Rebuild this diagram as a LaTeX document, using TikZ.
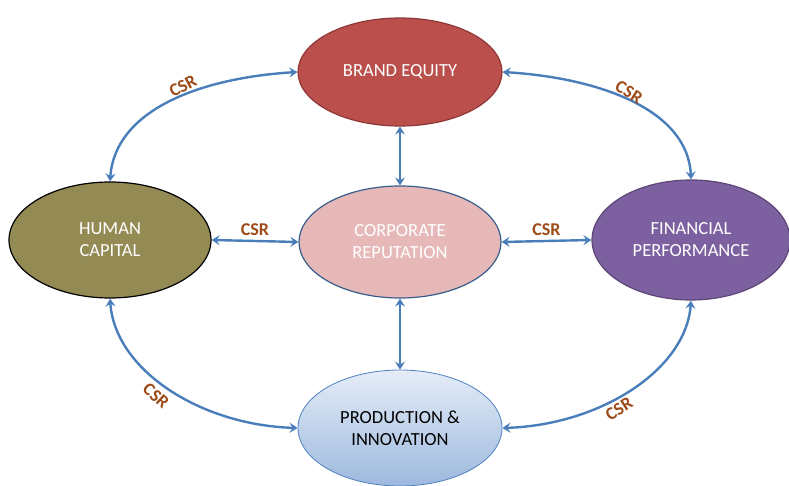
\documentclass[tikz,border=0pt]{standalone}
\usepackage{fontspec}
\setmainfont{Carlito}
\usetikzlibrary{shapes.geometric,arrows.meta}
\definecolor{arrowblue}{HTML}{4A7EBB}
\definecolor{csrbrown}{HTML}{9C4A17}
\definecolor{befill}{HTML}{BA4F4C}
\definecolor{bedraw}{HTML}{8C3836}
\definecolor{hcfill}{HTML}{948A54}
\definecolor{crfill}{HTML}{E6B9B8}
\definecolor{crdraw}{HTML}{385D8A}
\definecolor{fpfill}{HTML}{7D60A0}
\definecolor{fpdraw}{HTML}{5C4776}
\definecolor{pitop}{HTML}{E4ECF7}
\definecolor{pibot}{HTML}{9DB9DE}
\definecolor{pidraw}{HTML}{4F81BD}
\tikzset{
  blob/.style={ellipse, inner sep=0pt, line width=1.2pt, align=center,
    font=\fontsize{18.5}{22}\selectfont},
  link/.style={draw=arrowblue, line width=2.4pt,
    {Stealth[length=8pt,width=10pt,inset=3pt]}-{Stealth[length=8pt,width=10pt,inset=3pt]}},
  csr/.style={text=csrbrown, font=\fontsize{18}{20}\selectfont\bfseries, inner sep=0pt}
}
\begin{document}
\begin{tikzpicture}[x=1pt,y=1pt]
\useasboundingbox (0,0) rectangle (789,486);
\clip (0,0) rectangle (789,486);
% nodes (y = 486 - pixel y)
\node[blob, fill=befill, draw=bedraw, text=white, minimum width=204pt, minimum height=108pt] (be) at (400,414) {BRAND EQUITY};
\node[blob, fill=crfill, draw=crdraw, text=white, minimum width=202pt, minimum height=112pt] (cr) at (400,244) {CORPORATE\\REPUTATION};
\node[blob, fill=hcfill, draw=black, text=white, minimum width=202pt, minimum height=116pt] (hc) at (110,246) {HUMAN\\CAPITAL};
\node[blob, fill=fpfill, draw=fpdraw, text=white, minimum width=198pt, minimum height=120pt] (fp) at (691,246) {FINANCIAL\\PERFORMANCE};
\node[blob, top color=pitop, bottom color=pibot, draw=pidraw, line width=0.8pt, text=black, minimum width=204pt, minimum height=116pt] (pi) at (400,58) {PRODUCTION \&\\INNOVATION};
% straight connectors
\draw[link] (hc.east) -- (cr.west) node[csr, midway, above=4pt] {CSR};
\draw[link] (cr.east) -- (fp.west) node[csr, midway, above=4pt] {CSR};
\draw[link] (be.south) -- (cr.north);
\draw[link] (cr.south) -- (pi.north);
% curved connectors
\draw[link] (be.west) .. controls (200,408) and (115,376) .. (hc.north);
\draw[link] (be.east) .. controls (600,408) and (688,376) .. (fp.north);
\draw[link] (hc.south) .. controls (115,116) and (200,61) .. (pi.west);
\draw[link] (fp.south) .. controls (686,116) and (600,61) .. (pi.east);
% curved labels
\node[csr, rotate=28] (l1) at (183,400) {CSR};
\node[csr, rotate=-32] (l2) at (629,394) {CSR};
\node[csr, rotate=-42] (l3) at (156,90) {CSR};
\node[csr, rotate=33] (l4) at (619,77) {CSR};
\end{tikzpicture}
\end{document}
